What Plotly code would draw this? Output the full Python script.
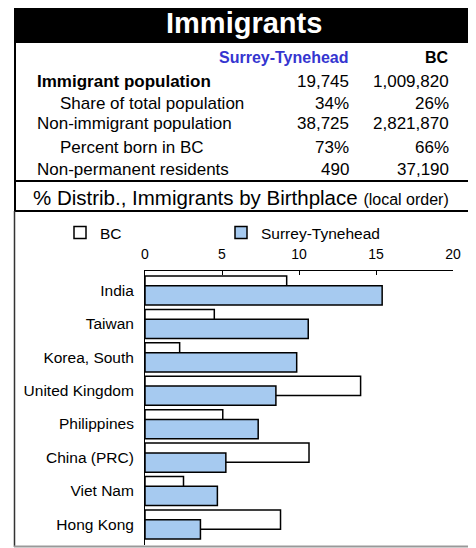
import plotly.graph_objects as go

# the page body has an 8px margin, so the figure is drawn 8px smaller
# and all layout positions below are measured on the 476x548 window
OFF = 8
W, H = 476 - OFF, 548 - OFF

# chart data (percent of immigrants, local order)
countries = ["India", "Taiwan", "Korea, South", "United Kingdom",
             "Philippines", "China (PRC)", "Viet Nam", "Hong Kong"]
bc_pct = [9.2, 4.5, 2.25, 14.0, 5.05, 10.65, 2.5, 8.8]
surrey_pct = [15.4, 10.6, 9.85, 8.5, 7.35, 5.25, 4.7, 3.6]

# table data
row_labels = ["Immigrant population", "Share of total population",
              "Non-immigrant population", "Percent born in BC",
              "Non-permanent residents"]
row_indent = [False, True, False, True, False]
surrey_vals = ["19,745", "34%", "38,725", "73%", "490"]
bc_vals = ["1,009,820", "26%", "2,821,870", "66%", "37,190"]

FONT = "Liberation Sans, Arial, sans-serif"


def px(x):
    return (x - OFF) / W


def py(y):
    return 1 - (y - OFF) / H


fig = go.Figure()
fig.add_trace(go.Bar(
    name="BC", y=countries, x=bc_pct, orientation="h",
    offset=-0.43, width=0.575,
    marker=dict(color="white", line=dict(color="black", width=1.5)),
))
fig.add_trace(go.Bar(
    name="Surrey-Tynehead", y=countries, x=surrey_pct, orientation="h",
    offset=-0.135, width=0.575,
    marker=dict(color="#A6CAF0", line=dict(color="black", width=1.5)),
))

shapes = [
    # title band
    dict(type="rect", x0=px(14), x1=px(471), y0=py(43), y1=py(4),
         fillcolor="black", line=dict(width=0)),
    # table box
    dict(type="line", x0=px(15), x1=px(15), y0=py(211), y1=py(43),
         line=dict(color="black", width=2)),
    dict(type="line", x0=px(470), x1=px(470), y0=py(211), y1=py(43),
         line=dict(color="black", width=2)),
    dict(type="line", x0=px(14), x1=px(471), y0=py(181), y1=py(181),
         line=dict(color="black", width=2)),
    dict(type="line", x0=px(14), x1=px(471), y0=py(211), y1=py(211),
         line=dict(color="black", width=2)),
    # chart box
    dict(type="line", x0=px(14.5), x1=px(14.5), y0=py(547), y1=py(211),
         line=dict(color="#333333", width=1.5)),
    dict(type="line", x0=px(470.5), x1=px(470.5), y0=py(547), y1=py(211),
         line=dict(color="black", width=3)),
    dict(type="line", x0=px(14), x1=px(472), y0=py(546.5), y1=py(546.5),
         line=dict(color="#999999", width=2)),
]
for s in shapes:
    s.update(xref="paper", yref="paper")

ann = [
    dict(text="<b>Immigrants</b>", x=px(244), y=py(23), xanchor="center",
         yanchor="middle", font=dict(size=29, color="white")),
    dict(text="<b>Surrey-Tynehead</b>", x=px(351), y=py(58), xanchor="right",
         yanchor="middle", font=dict(size=16, color="#3535D0")),
    dict(text="<b>BC</b>", x=px(451), y=py(58), xanchor="right",
         yanchor="middle", font=dict(size=16, color="black")),
    dict(text="% Distrib., Immigrants by Birthplace "
              "<span style='font-size:16px'>(local order)</span>",
         x=px(241), y=py(197), xanchor="center", yanchor="middle",
         font=dict(size=20.5, color="black")),
]
row_y = [81, 103, 124, 147, 169]
for i, lab in enumerate(row_labels):
    ann.append(dict(text=("<b>%s</b>" % lab) if i == 0 else lab,
                    x=px(58 if row_indent[i] else 35), y=py(row_y[i]),
                    xanchor="left", yanchor="middle",
                    font=dict(size=17, color="black")))
    ann.append(dict(text=surrey_vals[i], x=px(351), y=py(row_y[i]),
                    xanchor="right", yanchor="middle",
                    font=dict(size=17, color="black")))
    ann.append(dict(text=bc_vals[i], x=px(451), y=py(row_y[i]),
                    xanchor="right", yanchor="middle",
                    font=dict(size=17, color="black")))
for a in ann:
    a.update(xref="paper", yref="paper", showarrow=False)

fig.update_layout(
    width=W, height=H, autosize=False,
    margin=dict(l=0, r=0, t=0, b=0),
    paper_bgcolor="white", plot_bgcolor="white",
    font=dict(family=FONT, size=15, color="black"),
    barmode="overlay",
    showlegend=True,
    legend=dict(orientation="h", x=px(60), y=py(216), xanchor="left",
                yanchor="top", entrywidth=116, entrywidthmode="pixels",
                font=dict(size=15.5), bgcolor="rgba(0,0,0,0)",
                traceorder="normal"),
    shapes=shapes,
    annotations=ann,
    xaxis=dict(side="top", range=[0, 20], dtick=5, domain=[px(145), px(453)],
               showline=True, linecolor="black", linewidth=1,
               ticks="inside", ticklen=4, tickcolor="black",
               showgrid=False, zeroline=False, tickfont=dict(size=14),
               ticklabelstandoff=5, automargin=False, fixedrange=True),
    yaxis=dict(categoryorder="array", categoryarray=countries,
               range=[7.62, -0.58], domain=[py(545), py(271)],
               showline=True, linecolor="black", linewidth=1,
               ticks="", showgrid=False, zeroline=False,
               ticklabelstandoff=7, tickfont=dict(size=15.5),
               automargin=False, fixedrange=True),
)

fig.write_html("out.html")
